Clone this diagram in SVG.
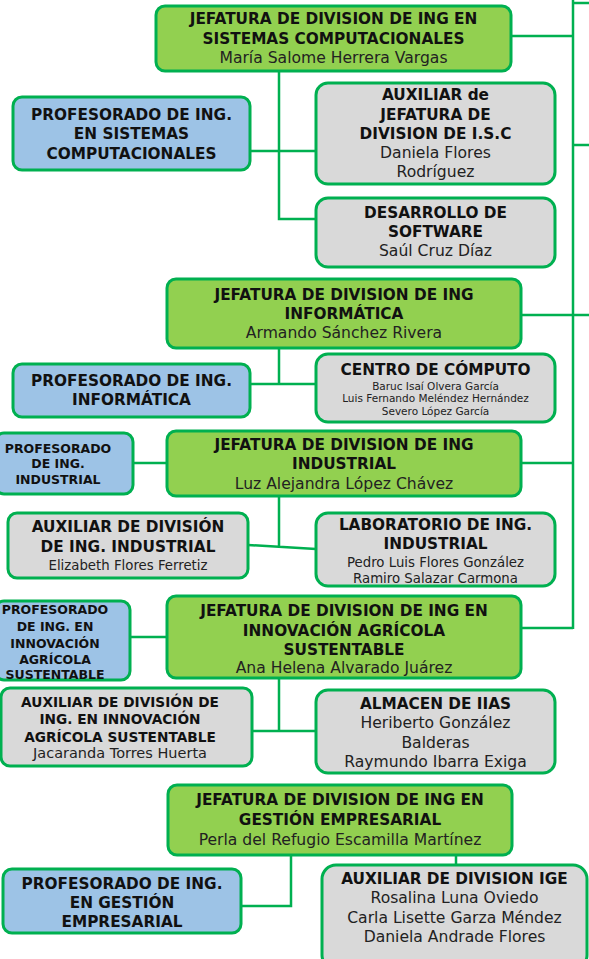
<svg xmlns="http://www.w3.org/2000/svg" width="589" height="959" viewBox="0 0 589 959">
<style>
.box{stroke:#00b050;stroke-width:3}
.g{fill:#92d050}.b{fill:#9dc3e6}.y{fill:#d9d9d9}
.t{font-family:"DejaVu Sans",sans-serif;font-weight:bold;font-size:15.3px;fill:#111;text-anchor:middle;dominant-baseline:central}
.n{font-family:"DejaVu Sans",sans-serif;font-size:15.6px;fill:#222;text-anchor:middle;dominant-baseline:central}
.c{fill:none;stroke:#00b050;stroke-width:2.5}
</style>
<rect width="589" height="959" fill="#fff"/>
<g id="connectors">
<path class="c" d="M573,-2V629M573,3H592M511,36H573M573,145H592M521,315H592M521,463H573M521,628H573"/>
<path class="c" d="M279,71V219H316M250,151H316"/>
<path class="c" d="M279,348V384M250,384H316"/>
<path class="c" d="M133,463H167M279,496V546M248,545L316,549"/>
<path class="c" d="M130,637H167M279,678V731M252,731H316"/>
<path class="c" d="M291,855V906H241M456,855V865"/>
</g>
<g id="jefatura-isc">
<rect class="box g" x="156" y="6" width="355" height="65" rx="9"/>
<text class="t" x="333.5" y="19">JEFATURA DE DIVISION DE ING EN</text>
<text class="t" x="333.5" y="39">SISTEMAS COMPUTACIONALES</text>
<text class="n" x="333.5" y="58">María Salome Herrera Vargas</text>
</g>
<g id="profesorado-isc">
<rect class="box b" x="13" y="97" width="237" height="73" rx="9"/>
<text class="t" x="131.5" y="115">PROFESORADO DE ING.</text>
<text class="t" x="131.5" y="134">EN SISTEMAS</text>
<text class="t" x="131.5" y="154">COMPUTACIONALES</text>
</g>
<g id="auxiliar-isc">
<rect class="box y" x="316" y="83" width="239" height="101" rx="12"/>
<text class="t" x="435.5" y="95">AUXILIAR de</text>
<text class="t" x="435.5" y="115">JEFATURA DE</text>
<text class="t" x="435.5" y="134">DIVISION DE I.S.C</text>
<text class="n" x="435.5" y="153">Daniela Flores</text>
<text class="n" x="435.5" y="172">Rodríguez</text>
</g>
<g id="desarrollo-software">
<rect class="box y" x="316" y="198" width="239" height="69" rx="12"/>
<text class="t" x="435.5" y="213">DESARROLLO DE</text>
<text class="t" x="435.5" y="232">SOFTWARE</text>
<text class="n" x="435.5" y="251">Saúl Cruz Díaz</text>
</g>
<g id="jefatura-informatica">
<rect class="box g" x="167" y="279" width="354" height="69" rx="9"/>
<text class="t" x="344" y="295">JEFATURA DE DIVISION DE ING</text>
<text class="t" x="344" y="314">INFORMÁTICA</text>
<text class="n" x="344" y="333">Armando Sánchez Rivera</text>
</g>
<g id="profesorado-informatica">
<rect class="box b" x="13" y="364" width="237" height="53" rx="9"/>
<text class="t" x="131.5" y="381">PROFESORADO DE ING.</text>
<text class="t" x="131.5" y="400">INFORMÁTICA</text>
</g>
<g id="centro-computo">
<rect class="box y" x="316" y="354" width="239" height="68" rx="12"/>
<text class="t" x="435.5" y="370">CENTRO DE CÓMPUTO</text>
<text class="n" x="435.5" y="386" style="font-size:10.5px">Baruc Isaí Olvera García</text>
<text class="n" x="435.5" y="398" style="font-size:10.5px">Luis Fernando Meléndez Hernández</text>
<text class="n" x="435.5" y="411" style="font-size:10.5px">Severo López García</text>
</g>
<g id="jefatura-industrial">
<rect class="box g" x="167" y="431" width="354" height="65" rx="9"/>
<text class="t" x="344" y="445">JEFATURA DE DIVISION DE ING</text>
<text class="t" x="344" y="464">INDUSTRIAL</text>
<text class="n" x="344" y="484">Luz Alejandra López Chávez</text>
</g>
<g id="profesorado-industrial">
<rect class="box b" x="-5" y="433" width="138" height="61" rx="9"/>
<text class="t" x="58" y="448" style="font-size:12.5px">PROFESORADO</text>
<text class="t" x="58" y="463" style="font-size:12.5px">DE ING.</text>
<text class="t" x="58" y="479" style="font-size:12.5px">INDUSTRIAL</text>
</g>
<g id="auxiliar-industrial">
<rect class="box y" x="8" y="513" width="240" height="65" rx="9"/>
<text class="t" x="128" y="527">AUXILIAR DE DIVISIÓN</text>
<text class="t" x="128" y="547">DE ING. INDUSTRIAL</text>
<text class="n" x="128" y="565" style="font-size:13.3px">Elizabeth Flores Ferretiz</text>
</g>
<g id="laboratorio-industrial">
<rect class="box y" x="316" y="513" width="239" height="73" rx="12"/>
<text class="t" x="435.5" y="525">LABORATORIO DE ING.</text>
<text class="t" x="435.5" y="544">INDUSTRIAL</text>
<text class="n" x="435.5" y="562" style="font-size:13.3px">Pedro Luis Flores González</text>
<text class="n" x="435.5" y="578" style="font-size:13.3px">Ramiro Salazar Carmona</text>
</g>
<g id="jefatura-agricola">
<rect class="box g" x="167" y="596" width="354" height="82" rx="9"/>
<text class="t" x="344" y="611">JEFATURA DE DIVISION DE ING EN</text>
<text class="t" x="344" y="631">INNOVACIÓN AGRÍCOLA</text>
<text class="t" x="344" y="650">SUSTENTABLE</text>
<text class="n" x="344" y="668">Ana Helena Alvarado Juárez</text>
</g>
<g id="profesorado-agricola">
<rect class="box b" x="-5" y="601" width="135" height="79" rx="9"/>
<text class="t" x="55" y="609" style="font-size:12.5px">PROFESORADO</text>
<text class="t" x="55" y="626" style="font-size:12.5px">DE ING. EN</text>
<text class="t" x="55" y="643" style="font-size:12.5px">INNOVACIÓN</text>
<text class="t" x="55" y="659" style="font-size:12.5px">AGRÍCOLA</text>
<text class="t" x="55" y="674" style="font-size:12.5px">SUSTENTABLE</text>
</g>
<g id="auxiliar-agricola">
<rect class="box y" x="1" y="688" width="251" height="78" rx="9"/>
<text class="t" x="120" y="702" style="font-size:13.7px">AUXILIAR DE DIVISIÓN DE</text>
<text class="t" x="120" y="719" style="font-size:13.7px">ING. EN INNOVACIÓN</text>
<text class="t" x="120" y="737" style="font-size:13.7px">AGRÍCOLA SUSTENTABLE</text>
<text class="n" x="120" y="753" style="font-size:14.5px">Jacaranda Torres Huerta</text>
</g>
<g id="almacen-iias">
<rect class="box y" x="316" y="690" width="239" height="83" rx="12"/>
<text class="t" x="435.5" y="704">ALMACEN DE IIAS</text>
<text class="n" x="435.5" y="723">Heriberto González</text>
<text class="n" x="435.5" y="743">Balderas</text>
<text class="n" x="435.5" y="762">Raymundo Ibarra Exiga</text>
</g>
<g id="jefatura-gestion">
<rect class="box g" x="168" y="785" width="344" height="70" rx="9"/>
<text class="t" x="340" y="800">JEFATURA DE DIVISION DE ING EN</text>
<text class="t" x="340" y="820">GESTIÓN EMPRESARIAL</text>
<text class="n" x="340" y="840">Perla del Refugio Escamilla Martínez</text>
</g>
<g id="profesorado-gestion">
<rect class="box b" x="3" y="869" width="238" height="64" rx="9"/>
<text class="t" x="122" y="884">PROFESORADO DE ING.</text>
<text class="t" x="122" y="903">EN GESTIÓN</text>
<text class="t" x="122" y="922">EMPRESARIAL</text>
</g>
<g id="auxiliar-ige">
<rect class="box y" x="322" y="865" width="265" height="104" rx="14"/>
<text class="t" x="454.5" y="879">AUXILIAR DE DIVISION IGE</text>
<text class="n" x="454.5" y="898">Rosalina Luna Oviedo</text>
<text class="n" x="454.5" y="918">Carla Lisette Garza Méndez</text>
<text class="n" x="454.5" y="937">Daniela Andrade Flores</text>
</g>
</svg>
